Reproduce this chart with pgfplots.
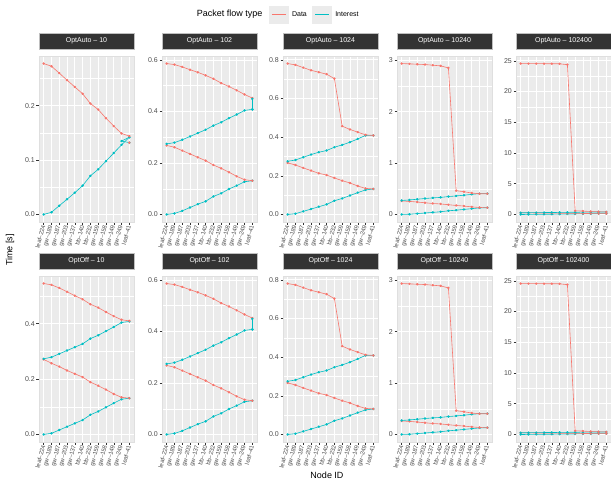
\documentclass[border=0pt]{standalone}
\usepackage{fontspec}
\setmainfont{Liberation Sans}
\usepackage{pgfplots}
\usepackage{pgfplotstable}
\pgfplotsset{compat=1.18}

\definecolor{dred}{HTML}{F8766D}
\definecolor{icyan}{HTML}{00BFC4}
\definecolor{panelbg}{HTML}{EBEBEB}
\definecolor{stripbg}{HTML}{333333}
\definecolor{labgray}{HTML}{4D4D4D}
\definecolor{tickgray}{HTML}{333333}
\definecolor{legbg}{HTML}{EBEBEB}

% OptAuto - 10 (single round)
\pgfplotstableread{
x c r
0 0.000 0.2775
1 0.004 0.2726
2 0.016 0.260
3 0.028 0.247
4 0.040 0.2345
5 0.053 0.222
6 0.071 0.204
7 0.083 0.193
8 0.098 0.177
9 0.113 0.1625
10 0.128 0.149
11 0.142 0.144
}\tabA

% 102 (OptAuto and OptOff)
\pgfplotstableread{
x cL rL cH rH
0 0.000 0.268 0.274 0.586
1 0.004 0.261 0.279 0.582
2 0.014 0.248 0.290 0.573
3 0.027 0.235 0.303 0.562
4 0.040 0.222 0.316 0.552
5 0.051 0.209 0.329 0.540
6 0.070 0.192 0.345 0.527
7 0.082 0.179 0.358 0.510
8 0.099 0.164 0.374 0.497
9 0.112 0.148 0.388 0.482
10 0.127 0.135 0.404 0.466
11 0.131 0.131 0.408 0.452
}\tabB

% 1024
\pgfplotstableread{
x cL rL cH rH
0 0.000 0.267 0.275 0.781
1 0.004 0.256 0.282 0.774
2 0.016 0.241 0.296 0.760
3 0.028 0.227 0.310 0.746
4 0.040 0.213 0.322 0.736
5 0.052 0.204 0.331 0.726
6 0.071 0.189 0.348 0.703
7 0.083 0.175 0.360 0.457
8 0.098 0.163 0.374 0.440
9 0.113 0.147 0.391 0.426
10 0.127 0.135 0.409 0.412
11 0.132 0.132 0.409 0.409
}\tabC

% 10240
\pgfplotstableread{
x cL rL cH rH
0 0.000 0.262 0.272 2.934
1 0.004 0.254 0.282 2.928
2 0.016 0.241 0.296 2.921
3 0.028 0.227 0.310 2.915
4 0.040 0.213 0.322 2.902
5 0.052 0.204 0.331 2.889
6 0.071 0.189 0.348 2.850
7 0.083 0.175 0.360 0.462
8 0.098 0.163 0.374 0.442
9 0.113 0.147 0.391 0.416
10 0.127 0.135 0.405 0.403
11 0.132 0.132 0.405 0.403
}\tabD

% 102400
\pgfplotstableread{
x cL rL cH rH
0 0.000 0.262 0.272 24.56
1 0.004 0.254 0.282 24.55
2 0.016 0.241 0.296 24.55
3 0.028 0.227 0.310 24.54
4 0.040 0.213 0.322 24.53
5 0.052 0.204 0.331 24.52
6 0.071 0.189 0.348 24.38
7 0.083 0.175 0.360 0.60
8 0.098 0.163 0.374 0.55
9 0.113 0.147 0.391 0.48
10 0.127 0.135 0.405 0.44
11 0.132 0.132 0.405 0.41
}\tabE

% OptOff - 10
\pgfplotstableread{
x cL rL cH rH
0 0.000 0.271 0.273 0.545
1 0.004 0.257 0.279 0.540
2 0.016 0.245 0.291 0.529
3 0.028 0.231 0.303 0.515
4 0.040 0.219 0.315 0.501
5 0.052 0.207 0.327 0.488
6 0.071 0.189 0.346 0.470
7 0.083 0.176 0.358 0.458
8 0.098 0.162 0.373 0.442
9 0.113 0.146 0.388 0.427
10 0.127 0.134 0.404 0.414
11 0.131 0.131 0.408 0.410
}\tabF

\pgfplotsset{
  facet/.style={
    scale only axis, width=95pt, height=166pt,
    anchor=north west,
    xmin=-0.6, xmax=11.6,
    xtick={0,...,11},
    xticklabels={leaf--224,gw--189,gw--187,gw--203,gw--137,bb--140,bb--232,gw--159,gw--158,gw--149,gw--249,leaf--41},
    tick pos=left, tick align=outside,
    major tick length=2.5pt, minor tick length=0pt,
    every tick/.style={tickgray, line width=0.5pt},
    grid=both,
    major grid style={white, line width=0.8pt},
    minor grid style={white, line width=0.4pt},
    axis background/.style={fill=panelbg},
    axis line style={draw=gray!25, line width=0.5pt},
    xticklabel style={rotate=75, anchor=east, font=\fontsize{6}{7}\selectfont, text=labgray, inner sep=1pt},
    yticklabel style={font=\fontsize{7}{8}\selectfont, text=labgray, inner sep=1.5pt},
    title style={at={(rel axis cs:0.5,1)}, anchor=south, yshift=1pt, fill=stripbg, draw=gray!50, line width=0.5pt, text=white, minimum width=95pt, minimum height=16pt, inner sep=0pt, font=\fontsize{7}{8}\selectfont},
    /pgf/number format/assume math mode=true,
  },
  dline/.style={dred, line width=0.6pt, mark=*, mark size=0.9pt, mark options={solid}},
  iline/.style={icyan, line width=0.6pt, mark=*, mark size=0.9pt, mark options={solid}},
  % y scales
  s10/.style={ymin=-0.0139, ymax=0.2914, ytick={0,0.1,0.2}, yticklabels={0.0,0.1,0.2}, minor ytick={0.05,0.15,0.25}},
  s102/.style={ymin=-0.0293, ymax=0.6153, ytick={0,0.2,0.4,0.6}, yticklabels={0.0,0.2,0.4,0.6}, minor ytick={0.1,0.3,0.5}},
  s1024/.style={ymin=-0.039, ymax=0.820, ytick={0,0.2,0.4,0.6,0.8}, yticklabels={0.0,0.2,0.4,0.6,0.8}, minor ytick={0.1,0.3,0.5,0.7}},
  s10240/.style={ymin=-0.147, ymax=3.081, ytick={0,1,2,3}, yticklabels={0,1,2,3}, minor ytick={0.5,1.5,2.5}},
  s102400/.style={ymin=-1.228, ymax=25.79, ytick={0,5,10,15,20,25}, yticklabels={0,5,10,15,20,25}, minor ytick={2.5,7.5,12.5,17.5,22.5}},
  so10/.style={ymin=-0.0273, ymax=0.572, ytick={0,0.2,0.4}, yticklabels={0.0,0.2,0.4}, minor ytick={0.1,0.3,0.5}},
}

% four paths of a two-round panel
\newcommand{\rounds}[1]{%
  \addplot[iline] table[x=x,y=cL] {#1};
  \addplot[dline] table[x=x,y=rL] {#1};
  \addplot[iline] table[x=x,y=cH] {#1};
  \addplot[dline] table[x=x,y=rH] {#1};
}

\begin{document}
\begin{tikzpicture}
\useasboundingbox (0pt,0pt) rectangle (611pt,-483pt);
\clip (0pt,0pt) rectangle (611pt,-483pt);

% ---- row 1: OptAuto ----
\begin{axis}[facet, s10, at={(39pt,-56pt)}, title={OptAuto -- 10},
  legend style={at={(rel axis cs:2.421,1.25)}, anchor=west, draw=none, fill=none,
    inner sep=0pt, legend columns=2, font=\fontsize{7}{8}\selectfont,
    nodes={inner sep=0.5pt},
    /tikz/every odd column/.append style={column sep=3pt},
    /tikz/every even column/.append style={column sep=5pt}},
  legend image code/.code={\fill[legbg] (0pt,-8.5pt) rectangle (19pt,8.5pt);
    \draw[#1, line width=0.7pt] (2.5pt,0pt) -- (16.5pt,0pt);},
]
\addlegendimage{dred}\addlegendentry{Data}
\addlegendimage{icyan}\addlegendentry{Interest}
\addplot[iline] table[x=x,y=c] {\tabA};
\addplot[iline] coordinates {(11,0.142) (10,0.135) (11,0.132)};
\addplot[dline] table[x=x,y=r] {\tabA};
\addplot[dline] coordinates {(11,0.132)};
\end{axis}

\begin{axis}[facet, s102, at={(162pt,-56pt)}, title={OptAuto -- 102}]
\rounds{\tabB}
\addplot[iline] coordinates {(11,0.408) (11,0.449)};
\end{axis}

\begin{axis}[facet, s1024, at={(283pt,-56pt)}, title={OptAuto -- 1024}]
\rounds{\tabC}
\end{axis}

\begin{axis}[facet, s10240, at={(397pt,-56pt)}, title={OptAuto -- 10240}]
\rounds{\tabD}
\end{axis}

\begin{axis}[facet, s102400, at={(516pt,-56pt)}, title={OptAuto -- 102400}]
\rounds{\tabE}
\end{axis}

% ---- row 2: OptOff ----
\begin{axis}[facet, so10, at={(39pt,-276pt)}, title={OptOff -- 10}]
\rounds{\tabF}
\end{axis}

\begin{axis}[facet, s102, at={(162pt,-276pt)}, title={OptOff -- 102}]
\rounds{\tabB}
\addplot[iline] coordinates {(11,0.408) (11,0.449)};
\end{axis}

\begin{axis}[facet, s1024, at={(283pt,-276pt)}, title={OptOff -- 1024}]
\rounds{\tabC}
\end{axis}

\begin{axis}[facet, s10240, at={(397pt,-276pt)}, title={OptOff -- 10240}]
\rounds{\tabD}
\end{axis}

\begin{axis}[facet, s102400, at={(516pt,-276pt)}, title={OptOff -- 102400}]
\rounds{\tabE}
\end{axis}

% titles
\node[anchor=east, font=\fontsize{9}{10}\selectfont] at (266pt,-14.5pt) {Packet flow type};
\node[rotate=90, font=\fontsize{9}{10}\selectfont] at (10pt,-250pt) {Time [s]};
\node[font=\fontsize{9}{10}\selectfont] at (327pt,-475pt) {Node ID};
\end{tikzpicture}
\end{document}
